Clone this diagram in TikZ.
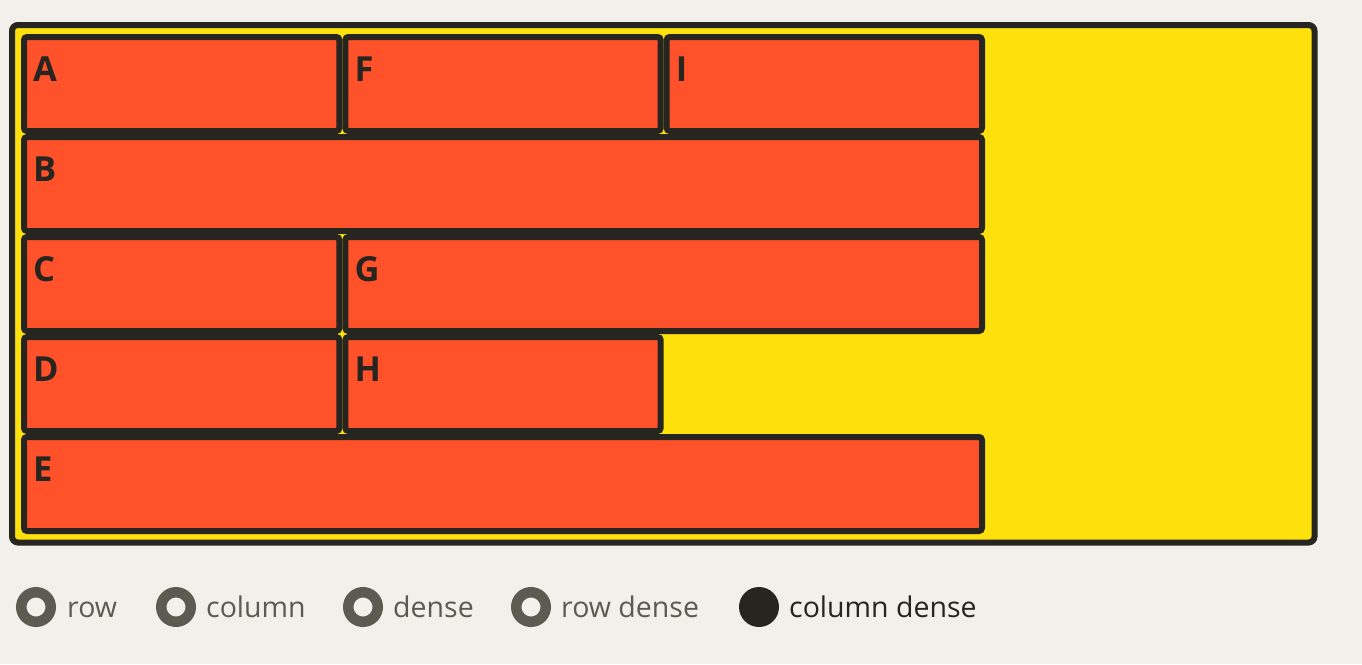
\documentclass[tikz,border=0pt]{standalone}
\usepackage{fontspec}
\setmainfont{Open Sans}
\definecolor{bg}{HTML}{F2F0EB}
\definecolor{yel}{HTML}{FDE00C}
\definecolor{org}{HTML}{FF512A}
\definecolor{ink}{HTML}{26251F}
\definecolor{gry}{HTML}{5C5B52}
\tikzset{
  container/.style={draw=ink, line width=6pt, fill=yel, rounded corners=6pt},
  item/.style={draw=ink, line width=6pt, fill=org, rounded corners=3pt, inner sep=0pt, minimum height=94pt},
  single/.style={item, minimum width=315.33pt},
  double/.style={item, minimum width=636.67pt},
  triple/.style={item, minimum width=958pt},
  lab/.style={anchor=base west, inner sep=0pt, text=ink, font=\fontsize{34.5}{34.5}\selectfont\bfseries},
  ring/.style={circle, draw=gry, line width=10.5pt, minimum size=29.5pt, inner sep=0pt, fill=bg},
  dot/.style={circle, fill=ink, minimum size=40pt, inner sep=0pt},
  opt/.style={anchor=base west, inner sep=0pt, text=gry, font=\fontsize{28.5}{28.5}\selectfont},
  optsel/.style={opt, text=ink}
}
\begin{document}
\begin{tikzpicture}[x=1pt,y=-1pt]
\useasboundingbox (0,0) rectangle (1362,664);
\fill[bg] (0,0) rectangle (1362,664);
\draw[container] (12,25) rectangle (1314.5,542.5);
% items
\node[single] (A) at (181.67,84) {};
\node[single] (F) at (503,84) {};
\node[single] (I) at (824.33,84) {};
\node[triple] (B) at (503,184) {};
\node[single] (C) at (181.67,284) {};
\node[double] (G) at (663.67,284) {};
\node[single] (D) at (181.67,384) {};
\node[single] (H) at (503,384) {};
\node[triple] (E) at (503,484) {};
% labels
\node[lab] (lA) at (33,81) {A};
\node[lab] (lF) at (354.3,81) {F};
\node[lab] (lI) at (675.7,81) {I};
\node[lab] (lB) at (33,181) {B};
\node[lab] (lC) at (33,281) {C};
\node[lab] (lG) at (354.3,281) {G};
\node[lab] (lD) at (33,381) {D};
\node[lab] (lH) at (354.3,381) {H};
\node[lab] (lE) at (33,481) {E};
% radio options
\node[ring] (r1) at (36,607) {};
\node[opt] (t1) at (67,617) {row};
\node[ring] (r2) at (176,607) {};
\node[opt] (t2) at (206,617) {column};
\node[ring] (r3) at (363,607) {};
\node[opt] (t3) at (393,617) {dense};
\node[ring] (r4) at (531,607) {};
\node[opt] (t4) at (561,617) {row dense};
\node[dot] (r5) at (759,607) {};
\node[optsel] (t5) at (789,617) {column dense};
\end{tikzpicture}
\end{document}
